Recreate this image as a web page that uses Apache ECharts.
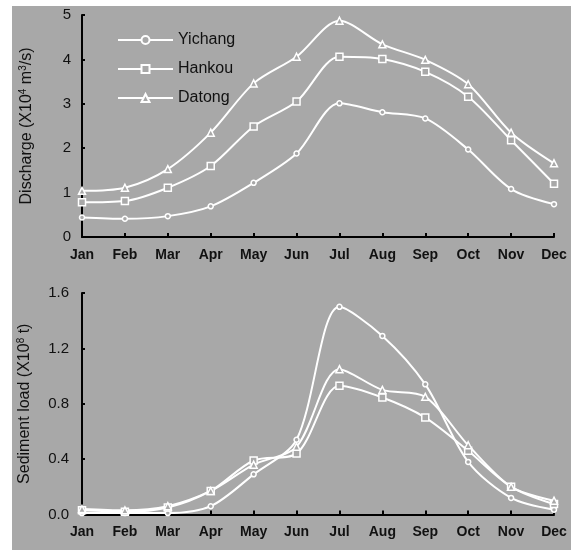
<!DOCTYPE html>
<html><head><meta charset="utf-8">
<script src="https://cdn.jsdelivr.net/npm/echarts@6/dist/echarts.min.js"></script>
<style>html,body{margin:0;padding:0;background:#fff;}#c{width:579px;height:550px;}</style>
</head><body><div id="c"></div>
<script>
var months = ['Jan','Feb','Mar','Apr','May','Jun','Jul','Aug','Sep','Oct','Nov','Dec'];
var stations = ['Yichang','Hankou','Datong'];
var dischargeTicks = [0,1,2,3,4,5];
var sedimentTicks = [0.0,0.4,0.8,1.2,1.6];
// Discharge (x10^4 m3/s)
var dischargeYichang = [0.44,0.41,0.47,0.69,1.22,1.88,3.01,2.81,2.67,1.97,1.08,0.74];
var dischargeHankou  = [0.78,0.81,1.11,1.60,2.49,3.05,4.06,4.01,3.72,3.16,2.18,1.20];
var dischargeDatong  = [1.04,1.11,1.53,2.35,3.46,4.06,4.87,4.34,3.99,3.44,2.35,1.66];
// Sediment load (x10^8 t)
var sedimentYichang = [0.01,0.01,0.01,0.06,0.29,0.54,1.50,1.29,0.94,0.38,0.12,0.035];
var sedimentHankou  = [0.03,0.02,0.05,0.17,0.39,0.44,0.93,0.845,0.70,0.46,0.20,0.075];
var sedimentDatong  = [0.04,0.03,0.06,0.17,0.36,0.49,1.05,0.90,0.85,0.50,0.20,0.10];

var BG = '#a8a8a8';
var FONT = '"Liberation Sans", Arial, sans-serif';
var symbols = ['circle','rect','triangle'];
var symSizes = [5,7,7];

function mkSeries(name, idx, data, gi){
  return {
    name: name, type: 'line', xAxisIndex: gi, yAxisIndex: gi,
    data: data, smooth: 0.3,
    symbol: symbols[idx], symbolSize: symSizes[idx], showSymbol: true,
    lineStyle: {color: '#fff', width: 2},
    itemStyle: {color: BG, borderColor: '#fff', borderWidth: 1.5},
    emphasis: {disabled: true}, animation: false
  };
}
function xAx(gi){
  return {
    type: 'category', gridIndex: gi, data: months, boundaryGap: false,
    axisLine: {lineStyle: {color: '#000', width: 2}},
    axisTick: {inside: true, length: 4, lineStyle: {color: '#000', width: 2}},
    axisLabel: {color: '#111', fontSize: 14, fontWeight: 'bold', fontFamily: FONT, margin: 11}
  };
}
function yAx(gi, min, max, interval, name, dec){
  return {
    type: 'value', gridIndex: gi, min: min, max: max, interval: interval,
    splitLine: {show: false},
    axisLine: {show: true, lineStyle: {color: '#000', width: 2}},
    axisTick: {show: true, inside: true, length: 3, lineStyle: {color: '#000', width: 2}},
    axisLabel: {color: '#111', fontSize: 15, fontFamily: FONT, margin: dec ? 13 : 11,
      formatter: function(v){ return dec ? v.toFixed(1) : String(v); }},
    name: name, nameLocation: 'middle', nameGap: dec ? 48 : 46, nameRotate: 90,
    nameTextStyle: {color: '#111', fontSize: 16, fontFamily: FONT,
      rich: {n: {fontSize: 16, fontFamily: FONT, color: '#111'},
             s: {fontSize: 10, fontFamily: FONT, color: '#111', verticalAlign: 'top', padding: [0,0,8,0]}}}
  };
}
var chart = echarts.init(document.getElementById('c'), null, {renderer: 'canvas'});
chart.setOption({
  backgroundColor: '#fff',
  animation: false,
  graphic: [{type: 'rect', z: -10, silent: true, shape: {x: 12, y: 6, width: 559, height: 544}, style: {fill: BG}}],
  legend: {
    data: stations, orient: 'vertical', left: 112, top: 27, itemGap: 13,
    itemWidth: 55, itemHeight: 10,
    textStyle: {color: '#111', fontSize: 16, fontFamily: FONT}
  },
  grid: [
    {left: 82, right: 25, top: 15, height: 222},
    {left: 82, right: 25, top: 293, height: 221.5}
  ],
  xAxis: [xAx(0), xAx(1)],
  yAxis: [
    yAx(0, dischargeTicks[0], dischargeTicks[dischargeTicks.length-1], 1, '{n|Discharge (X10}{s|4}{n| m}{s|3}{n|/s)}', false),
    yAx(1, sedimentTicks[0], sedimentTicks[sedimentTicks.length-1], 0.4, '{n|Sediment load (X10}{s|8}{n| t)}', true)
  ],
  series: [
    mkSeries(stations[0], 0, dischargeYichang, 0),
    mkSeries(stations[1], 1, dischargeHankou, 0),
    mkSeries(stations[2], 2, dischargeDatong, 0),
    mkSeries(stations[0], 0, sedimentYichang, 1),
    mkSeries(stations[1], 1, sedimentHankou, 1),
    mkSeries(stations[2], 2, sedimentDatong, 1)
  ]
});
</script></body></html>
